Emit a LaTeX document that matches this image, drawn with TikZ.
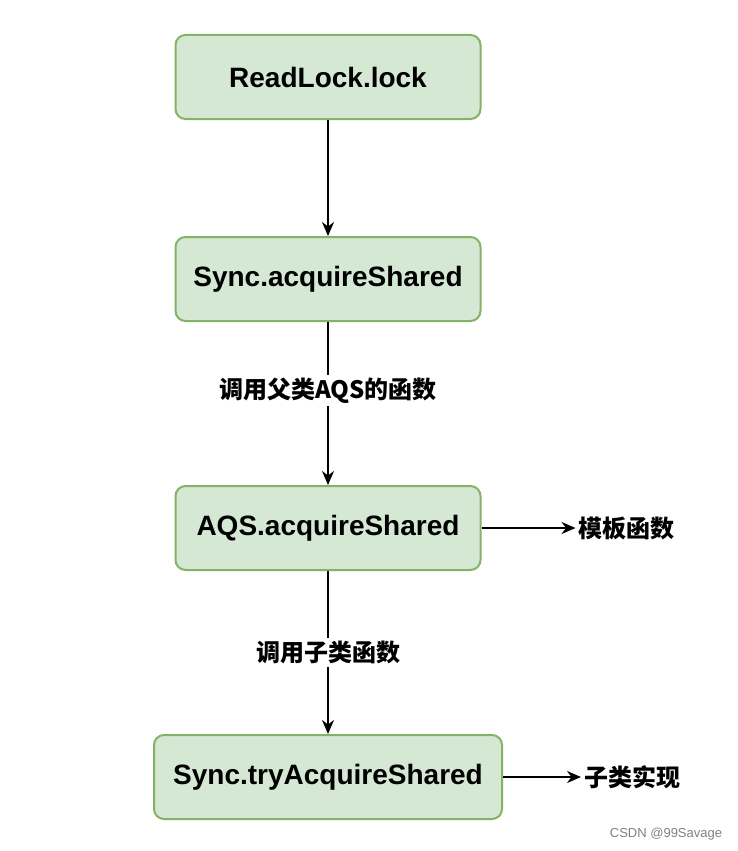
\documentclass[tikz,border=0pt]{standalone}
\usepackage{fontspec}
\setmainfont{Liberation Sans}
\newfontfamily\cjk{Noto Sans CJK SC}
\usetikzlibrary{positioning,arrows.meta}
\definecolor{boxfill}{HTML}{D5E8D4}
\definecolor{boxline}{HTML}{82B366}

\tikzset{
	func/.style={draw=boxline, fill=boxfill, line width=2pt, rounded corners=10pt,
		minimum height=84pt, font=\fontsize{28}{32}\selectfont\bfseries},
	note/.style={font=\cjk\bfseries\fontsize{24}{28}\selectfont, inner sep=3pt},
}

\begin{document}
\begin{tikzpicture}[x=1pt,y=-1pt]
	\useasboundingbox (0,0) rectangle (737,851);
	\node[func, minimum width=305pt] (rl) at (328,77) {ReadLock.lock};
	\node[func, minimum width=305pt, below=116pt of rl] (sync) {Sync.acquireShared};
	\node[func, minimum width=305pt, below=163pt of sync] (aqs) {AQS.acquireShared};
	\node[func, minimum width=348pt, below=163pt of aqs] (try) {Sync.tryAcquireShared};
	\node[note, right=94pt of aqs] (tpl) {模板函数};
	\node[note, right=78pt of try] (impl) {子类实现};
	\node[font=\fontsize{13}{15}\selectfont, text=gray] (csdn) at (666,834) {CSDN @99Savage};
	
	\path[-{Stealth[length=14pt,width=12pt]}, line width=2pt]
	(rl) edge (sync)
	(sync) edge node [note, fill=white, pos=0.42] {调用父类AQS的函数} (aqs)
	(aqs) edge node [note, fill=white] {调用子类函数} (try)
	(aqs) edge (tpl)
	(try) edge (impl);
	
\end{tikzpicture}
\end{document}
